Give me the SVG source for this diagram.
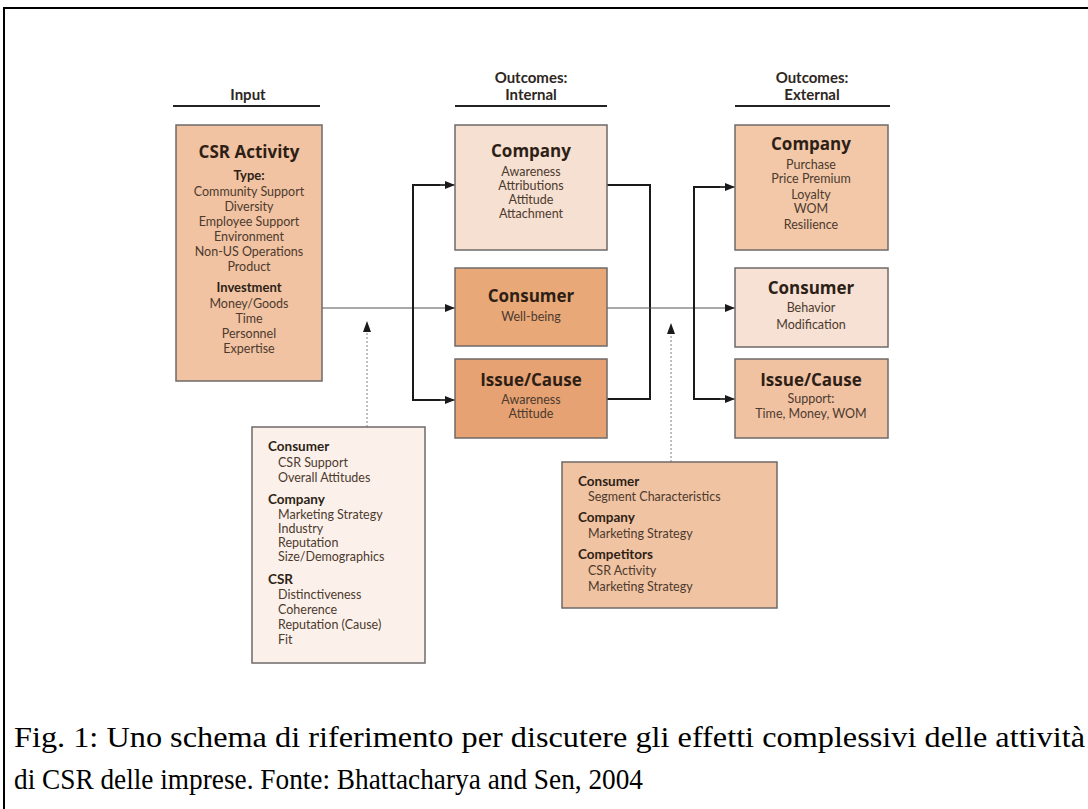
<svg xmlns="http://www.w3.org/2000/svg" width="1088" height="809" viewBox="0 0 1088 809">
<style>
.box{stroke:#6e6a68;stroke-width:1.5}
.hd{font-family:"Lato","Open Sans",sans-serif;font-weight:bold;font-size:15px;fill:#2e2622;text-anchor:middle}
.t{font-family:"Open Sans","Lato",sans-serif;font-weight:bold;font-size:17px;fill:#2e1f16;text-anchor:middle}
.s{font-family:"Lato","Open Sans",sans-serif;font-size:12.5px;fill:#4d3a2e;text-anchor:middle}
.sb{font-family:"Lato","Open Sans",sans-serif;font-weight:bold;font-size:13px;fill:#2e1f16;text-anchor:middle}
.lb{font-family:"Lato","Open Sans",sans-serif;font-weight:bold;font-size:13.5px;fill:#2e1f16}
.l{font-family:"Lato","Open Sans",sans-serif;font-size:12.5px;fill:#4d3a2e}
.cap{font-family:"Liberation Serif","Times New Roman",Times,"Nimbus Roman",serif;font-size:30px;fill:#000}
.rule{stroke:#222;stroke-width:2}
.bk{fill:none;stroke:#1a1a1a;stroke-width:2}
.ln{fill:none;stroke:#555;stroke-width:1.2}
.dot{fill:none;stroke:#aaa;stroke-width:1.5;stroke-dasharray:2 2}
</style>
<defs>
<marker id="ah" viewBox="0 0 10 8" refX="10" refY="4" markerWidth="10" markerHeight="8" markerUnits="userSpaceOnUse" orient="auto">
<path d="M0,0 L10,4 L0,8 Z" fill="#1a1a1a"/>
</marker>
</defs>
<rect width="1088" height="809" fill="#fff"/>
<g id="frame">
<line x1="3" y1="8" x2="1088" y2="8" stroke="#000" stroke-width="2"/>
<line x1="4" y1="8" x2="4" y2="809" stroke="#000" stroke-width="2"/>
</g>
<g id="headers">
<text class="hd" x="248" y="100">Input</text>
<line class="rule" x1="173" y1="106" x2="320" y2="106"/>
<text class="hd" x="531" y="83">Outcomes:</text>
<text class="hd" x="531" y="100">Internal</text>
<line class="rule" x1="455" y1="106" x2="607" y2="106"/>
<text class="hd" x="812" y="83">Outcomes:</text>
<text class="hd" x="812" y="100">External</text>
<line class="rule" x1="735" y1="106" x2="890" y2="106"/>
</g>
<g id="connectors">
<line class="ln" x1="322" y1="308" x2="455" y2="308" marker-end="url(#ah)"/>
<polyline class="bk" points="453,185 413,185 413,400 453,400"/>
<line class="ln" x1="440" y1="185" x2="455" y2="185" marker-end="url(#ah)"/>
<line class="ln" x1="440" y1="400" x2="455" y2="400" marker-end="url(#ah)"/>
<polyline class="bk" points="607,185 650,185 650,399 607,399"/>
<line class="ln" x1="607" y1="308" x2="735" y2="308" marker-end="url(#ah)"/>
<polyline class="bk" points="733,187 694,187 694,399 733,399"/>
<line class="ln" x1="720" y1="187" x2="735" y2="187" marker-end="url(#ah)"/>
<line class="ln" x1="720" y1="399" x2="735" y2="399" marker-end="url(#ah)"/>
<line class="dot" x1="367" y1="427" x2="367" y2="332"/>
<path d="M363,332 L367,321 L371,332 Z" fill="#1a1a1a"/>
<line class="dot" x1="671" y1="462" x2="671" y2="334"/>
<path d="M667,334 L671,323 L675,334 Z" fill="#1a1a1a"/>
</g>
<g id="csr-activity">
<rect class="box" x="176" y="125" width="146" height="256" fill="#f1c3a2"/>
<text class="t" x="249" y="158">CSR Activity</text>
<text class="sb" x="249" y="180">Type:</text>
<text class="s" x="249" y="196">Community Support</text>
<text class="s" x="249" y="211">Diversity</text>
<text class="s" x="249" y="226">Employee Support</text>
<text class="s" x="249" y="241">Environment</text>
<text class="s" x="249" y="256">Non-US Operations</text>
<text class="s" x="249" y="271">Product</text>
<text class="sb" x="249" y="292">Investment</text>
<text class="s" x="249" y="308">Money/Goods</text>
<text class="s" x="249" y="323">Time</text>
<text class="s" x="249" y="338">Personnel</text>
<text class="s" x="249" y="353">Expertise</text>
</g>
<g id="int-company">
<rect class="box" x="455" y="125" width="152" height="125" fill="#f6e0d2"/>
<text class="t" x="531" y="157">Company</text>
<text class="s" x="531" y="176">Awareness</text>
<text class="s" x="531" y="190">Attributions</text>
<text class="s" x="531" y="204">Attitude</text>
<text class="s" x="531" y="218">Attachment</text>
</g>
<g id="int-consumer">
<rect class="box" x="455" y="268" width="152" height="78" fill="#e9a878"/>
<text class="t" x="531" y="302">Consumer</text>
<text class="s" x="531" y="321">Well-being</text>
</g>
<g id="int-issue">
<rect class="box" x="455" y="359" width="152" height="79" fill="#e6a272"/>
<text class="t" x="531" y="386">Issue/Cause</text>
<text class="s" x="531" y="404">Awareness</text>
<text class="s" x="531" y="418">Attitude</text>
</g>
<g id="ext-company">
<rect class="box" x="735" y="125" width="153" height="125" fill="#f2c8a9"/>
<text class="t" x="811" y="150">Company</text>
<text class="s" x="811" y="169">Purchase</text>
<text class="s" x="811" y="183">Price Premium</text>
<text class="s" x="811" y="199">Loyalty</text>
<text class="s" x="811" y="213">WOM</text>
<text class="s" x="811" y="229">Resilience</text>
</g>
<g id="ext-consumer">
<rect class="box" x="735" y="268" width="153" height="79" fill="#f6e1d4"/>
<text class="t" x="811" y="294">Consumer</text>
<text class="s" x="811" y="312">Behavior</text>
<text class="s" x="811" y="329">Modification</text>
</g>
<g id="ext-issue">
<rect class="box" x="735" y="359" width="153" height="79" fill="#f0c2a2"/>
<text class="t" x="811" y="386">Issue/Cause</text>
<text class="s" x="811" y="403">Support:</text>
<text class="s" x="811" y="418">Time, Money, WOM</text>
</g>
<g id="moderators-left">
<rect class="box" x="252" y="427" width="173" height="236" fill="#fbf1ea"/>
<text class="lb" x="268" y="451">Consumer</text>
<text class="l" x="278" y="467">CSR Support</text>
<text class="l" x="278" y="482">Overall Attitudes</text>
<text class="lb" x="268" y="504">Company</text>
<text class="l" x="278" y="519">Marketing Strategy</text>
<text class="l" x="278" y="533">Industry</text>
<text class="l" x="278" y="547">Reputation</text>
<text class="l" x="278" y="561">Size/Demographics</text>
<text class="lb" x="268" y="584">CSR</text>
<text class="l" x="278" y="599">Distinctiveness</text>
<text class="l" x="278" y="614">Coherence</text>
<text class="l" x="278" y="629">Reputation (Cause)</text>
<text class="l" x="278" y="644">Fit</text>
</g>
<g id="moderators-right">
<rect class="box" x="562" y="462" width="215" height="146" fill="#f0c3a2"/>
<text class="lb" x="578" y="486">Consumer</text>
<text class="l" x="588" y="501">Segment Characteristics</text>
<text class="lb" x="578" y="522">Company</text>
<text class="l" x="588" y="538">Marketing Strategy</text>
<text class="lb" x="578" y="559">Competitors</text>
<text class="l" x="588" y="575">CSR Activity</text>
<text class="l" x="588" y="591">Marketing Strategy</text>
</g>
<g id="caption">
<text class="cap" x="14" y="747" textLength="1071" lengthAdjust="spacingAndGlyphs">Fig. 1: Uno schema di riferimento per discutere gli effetti complessivi delle attività</text>
<text class="cap" x="14" y="789" textLength="629" lengthAdjust="spacingAndGlyphs">di CSR delle imprese. Fonte: Bhattacharya and Sen, 2004</text>
</g>
</svg>
